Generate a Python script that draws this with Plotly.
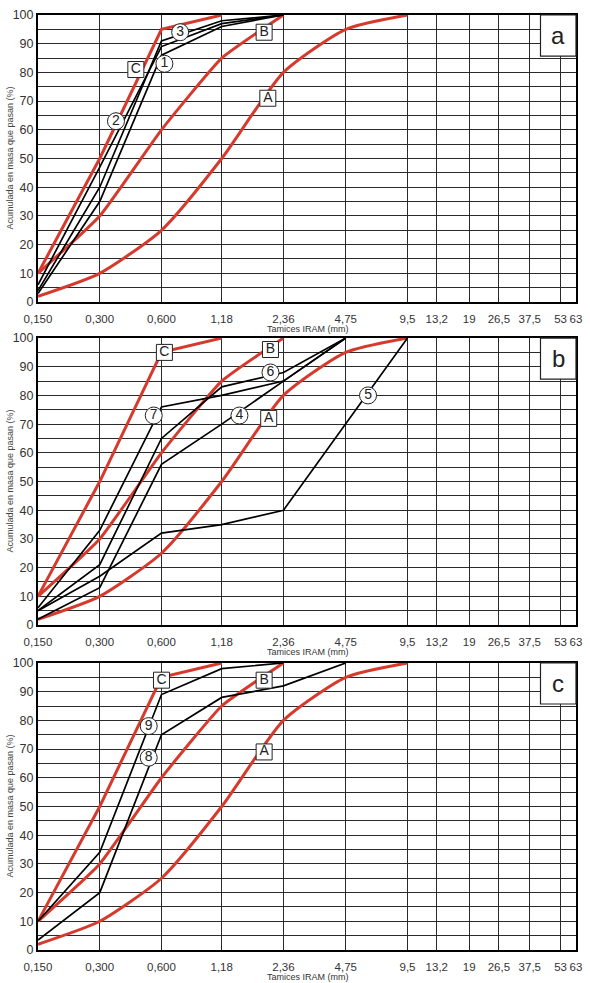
import math
import plotly.graph_objects as go

# ---------------- data ----------------
sieves = [0.15, 0.3, 0.6, 1.18, 2.36, 4.75, 9.5]
tick_vals = [0.15, 0.3, 0.6, 1.18, 2.36, 4.75, 9.5, 13.2, 19, 26.5, 37.5, 53, 63]
tick_text = ["0,150", "0,300", "0,600", "1,18", "2,36", "4,75", "9,5",
             "13,2", "19", "26,5", "37,5", "53", "63"]
y_vals = list(range(0, 101, 5))
y_text = [str(v) if v % 10 == 0 else "" for v in y_vals]

limit_A = [2, 10, 25, 50, 80, 95, 100]
limit_B = [10, 30, 60, 85, 100]
limit_C = [10, 50, 95, 100]

# panel a
curve_1 = [3, 35, 86, 96, 100]
curve_2 = [6, 47, 89, 97, 100]
curve_3 = [4, 40, 91, 98, 100]
# panel b
curve_4 = [2, 13, 56, 70, 85, 100]
curve_5 = [5, 17, 32, 35, 40, 70, 100]
curve_6 = [5, 21, 65, 83, 88, 100]
curve_7 = [6, 33, 76, 80, 85, 100]
# panel c
curve_8 = [3.5, 20, 75, 88, 92, 100]
curve_9 = [10, 34, 89, 98, 100]

panel_curves = [
    [curve_1, curve_2, curve_3],
    [curve_4, curve_5, curve_6, curve_7],
    [curve_8, curve_9],
]
panel_letters = ["a", "b", "c"]

# label texts / anchor points (mm, %)
labels_a = [("C", 0.45, 81, "square"), ("B", 1.9, 94, "square"), ("A", 1.98, 71, "square"),
            ("1", 0.62, 83, "circle"), ("2", 0.36, 63, "circle"), ("3", 0.74, 94, "circle")]
labels_b = [("C", 0.62, 95, "square"), ("B", 2.04, 96, "square"), ("A", 2.0, 72, "square"),
            ("6", 2.04, 88, "circle"), ("7", 0.55, 73, "circle"), ("4", 1.44, 73, "circle"),
            ("5", 6.1, 80, "circle")]
labels_c = [("C", 0.6, 94, "square"), ("B", 1.9, 94, "square"), ("A", 1.9, 69, "square"),
            ("9", 0.52, 78, "circle"), ("8", 0.52, 67, "circle")]
panel_labels = [labels_a, labels_b, labels_c]

# ---------------- styling ----------------
RED = "#d63a2d"
FONT = "Liberation Sans, Arial, sans-serif"
W, H = 590, 983
ML, MR, MT, MB = 38, 14, 15, 33
domains = [[0.6930, 1.0], [0.3476, 0.6545], [0.0, 0.3070]]

fig = go.Figure()
annotations = []
shapes = []

for i in range(3):
    n = "" if i == 0 else str(i + 1)
    xa, ya = "x" + n, "y" + n
    # limit curves
    fig.add_trace(go.Scatter(x=sieves[:len(limit_A)], y=limit_A, mode="lines",
                             line=dict(color=RED, width=3, shape="spline", smoothing=0.6),
                             xaxis=xa, yaxis=ya, hoverinfo="skip"))
    fig.add_trace(go.Scatter(x=sieves[:len(limit_B)], y=limit_B, mode="lines",
                             line=dict(color=RED, width=3, shape="spline", smoothing=0.4),
                             xaxis=xa, yaxis=ya, hoverinfo="skip"))
    fig.add_trace(go.Scatter(x=sieves[:len(limit_C)], y=limit_C, mode="lines",
                             line=dict(color=RED, width=3),
                             xaxis=xa, yaxis=ya, hoverinfo="skip"))
    for c in panel_curves[i]:
        fig.add_trace(go.Scatter(x=sieves[:len(c)], y=c, mode="lines",
                                 line=dict(color="black", width=1.7),
                                 xaxis=xa, yaxis=ya, hoverinfo="skip"))
    # labels
    for sym in ["square", "circle"]:
        labs = [l for l in panel_labels[i] if l[3] == sym]
        fig.add_trace(go.Scatter(
            x=[l[1] for l in labs], y=[l[2] for l in labs], text=[l[0] for l in labs],
            mode="markers+text", textposition="middle center",
            marker=dict(symbol=sym, size=17 if sym == "circle" else 16, color="white",
                        line=dict(color="#222", width=1)),
            textfont=dict(family=FONT, size=14, color="#222"),
            xaxis=xa, yaxis=ya, hoverinfo="skip", cliponaxis=False))

    fig.layout["xaxis" + n] = dict(
        type="log", range=[math.log10(0.15), math.log10(63)], domain=[0, 1],
        anchor=ya, tickvals=tick_vals, ticktext=tick_text, ticks="outside",
        ticklen=5, tickcolor="rgba(0,0,0,0)", automargin=False,
        tickfont=dict(family=FONT, size=11.5, color="#333"),
        showgrid=True, gridcolor="#2a2a2a", gridwidth=1.3,
        showline=True, linecolor="black", linewidth=2, mirror=True, zeroline=False)
    fig.layout["yaxis" + n] = dict(
        range=[0, 100], domain=domains[i], anchor=xa, automargin=False,
        tickvals=y_vals, ticktext=y_text, ticks="",
        tickfont=dict(family=FONT, size=12.5, color="#333"),
        showgrid=True, gridcolor="#2a2a2a", gridwidth=1.3,
        showline=True, linecolor="black", linewidth=2, mirror=True, zeroline=False)

    # panel letter box
    shapes.append(dict(type="rect", xref=xa + " domain", yref=ya + " domain",
                       x0=0.934, x1=1.0, y0=0.857, y1=1.0, fillcolor="white",
                       line=dict(color="#222", width=1.2), layer="above"))
    annotations.append(dict(text=panel_letters[i], xref=xa + " domain", yref=ya + " domain",
                            x=0.967, y=0.93, xanchor="center", yanchor="middle",
                            showarrow=False,
                            font=dict(family=FONT, size=24, color="#222")))
    # axis titles
    annotations.append(dict(text="Acumulada en masa que pasan (%)", textangle=-90,
                            xref="paper", yref=ya + " domain", x=-28 / (W - ML - MR), y=0.5,
                            xanchor="center", yanchor="middle", showarrow=False,
                            font=dict(family=FONT, size=9, color="#444")))
    annotations.append(dict(text="Tamices IRAM (mm)", xref=xa + " domain", yref=ya + " domain",
                            x=0.502, y=-27 / 287, xanchor="center", yanchor="middle",
                            showarrow=False, font=dict(family=FONT, size=9, color="#333")))

fig.update_layout(width=W, height=H, margin=dict(l=ML, r=MR, t=MT, b=MB),
                  paper_bgcolor="white", plot_bgcolor="white", showlegend=False,
                  hovermode=False, shapes=shapes, annotations=annotations)

fig.write_html("out.html", config={"displayModeBar": False},
               post_script="document.body.style.margin='0';"
                           "document.body.style.padding='0';"
                           "document.documentElement.style.overflow='hidden';")
